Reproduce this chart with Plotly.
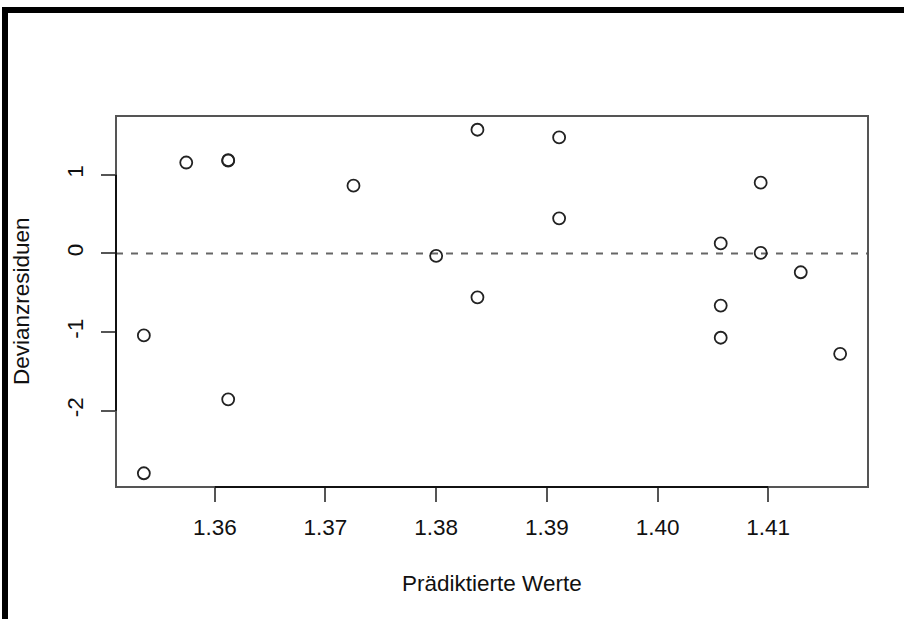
import plotly.graph_objects as go

# Fitted values and deviance residuals of the model
predicted = [1.35359, 1.35359, 1.35742, 1.36121, 1.36121, 1.36121, 1.37253, 1.38000,
             1.38373, 1.38373, 1.39111, 1.39111, 1.40571, 1.40571, 1.40571,
             1.40932, 1.40932, 1.41294, 1.41650]
residuals = [-1.043, -2.796, 1.157, 1.187, 1.181, -1.856, 0.863, -0.031,
             1.574, -0.558, 1.476, 0.447, 0.128, -0.663, -1.072,
             0.901, 0.008, -0.239, -1.277]

x_ticks = [1.36, 1.37, 1.38, 1.39, 1.40, 1.41]
x_tick_labels = ["1.36", "1.37", "1.38", "1.39", "1.40", "1.41"]
y_ticks = [-2, -1, 0, 1]
y_tick_labels = ["-2", "-1", "0", "1"]

x_title = "Prädiktierte Werte"
y_title = "Devianzresiduen"

# R-style axis ranges: data range padded by 4% on each side
def padded(vals, frac=0.04):
    lo, hi = min(vals), max(vals)
    d = (hi - lo) * frac
    return [lo - d, hi + d]

xr = padded(predicted)
yr = padded(residuals)

W, H = 904, 619
ML, MR, MT, MB = 116, 36, 116, 132
PW, PH = W - ML - MR, H - MT - MB

def px(x):
    return (x - ML) / PW

def py(y):
    return (H - MB - y) / PH

FONT = "Liberation Sans, Arial, Helvetica, sans-serif"
FS = 22.5

fig = go.Figure()
fig.add_trace(go.Scatter(
    x=predicted, y=residuals, mode="markers",
    marker=dict(symbol="circle-open", size=12, color="#222222",
                line=dict(width=1.8, color="#222222")),
    showlegend=False, hoverinfo="x+y",
))

shapes = [
    # reference line at zero
    dict(type="line", xref="paper", yref="y", x0=0, x1=1, y0=0, y1=0,
         line=dict(color="#666666", width=2, dash="7px,8px"), layer="below"),
    # plot box
    dict(type="rect", xref="paper", yref="paper", x0=0, x1=1, y0=0, y1=1,
         line=dict(color="#555555", width=2)),
    # axis lines between first and last tick
    dict(type="line", xref="x", yref="paper", x0=x_ticks[0], x1=x_ticks[-1], y0=0, y1=0,
         line=dict(color="#111111", width=2)),
    dict(type="line", xref="paper", yref="y", x0=0, x1=0, y0=y_ticks[0], y1=y_ticks[-1],
         line=dict(color="#111111", width=2)),
    # window frame
    dict(type="line", xref="paper", yref="paper", x0=px(5), x1=px(W + 10), y0=py(10), y1=py(10),
         line=dict(color="#000000", width=6)),
    dict(type="line", xref="paper", yref="paper", x0=px(5), x1=px(5), y0=py(7), y1=py(H + 10),
         line=dict(color="#000000", width=6)),
]

annotations = [
    dict(text=x_title, xref="paper", yref="paper", x=px(491.7), y=py(583),
         xanchor="center", yanchor="middle", showarrow=False,
         font=dict(family=FONT, size=FS, color="#111111")),
    dict(text=y_title, xref="paper", yref="paper", x=px(21), y=py(301),
         xanchor="center", yanchor="middle", showarrow=False, textangle=-90,
         font=dict(family=FONT, size=FS, color="#111111")),
]

fig.update_layout(
    width=W, height=H,
    margin=dict(l=ML, r=MR, t=MT, b=MB),
    paper_bgcolor="white", plot_bgcolor="white",
    shapes=shapes, annotations=annotations,
    font=dict(family=FONT, size=FS, color="#111111"),
    xaxis=dict(range=xr, tickmode="array", tickvals=x_ticks, ticktext=x_tick_labels,
               ticks="outside", ticklen=14, tickwidth=2, tickcolor="#555555",
               ticklabelstandoff=6,
               showgrid=False, zeroline=False, showline=False,
               tickfont=dict(family=FONT, size=FS, color="#111111")),
    yaxis=dict(range=yr, tickmode="array", tickvals=y_ticks, ticktext=y_tick_labels,
               ticks="outside", ticklen=14, tickwidth=2, tickcolor="#555555",
               tickangle=-90, ticklabelstandoff=9,
               showgrid=False, zeroline=False, showline=False,
               tickfont=dict(family=FONT, size=FS, color="#111111")),
)

fig.write_html("out.html")
